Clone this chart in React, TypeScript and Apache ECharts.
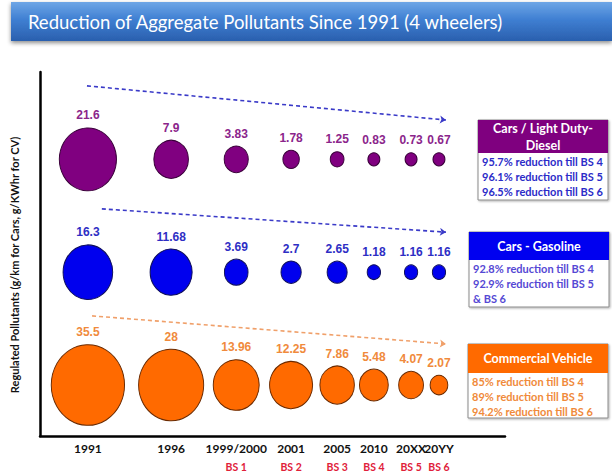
import React, { useEffect, useRef } from "react";
import * as echarts from "echarts";

const categories = ["1991", "1996", "1999/2000", "2001", "2005", "2010", "20XX", "20YY"];
const bsNorms = ["", "", "BS 1", "BS 2", "BS 3", "BS 4", "BS 5", "BS 6"];
// position of each category along the (unevenly spaced) x axis, 0..100
const xSlot = [10.3, 28.2, 42.2, 54, 63.9, 71.8, 79.8, 85.8];
const dieselValues = [21.6, 7.9, 3.83, 1.78, 1.25, 0.83, 0.73, 0.67];
const gasolineValues = [16.3, 11.68, 3.69, 2.7, 2.65, 1.18, 1.16, 1.16];
const cvValues = [35.5, 28, 13.96, 12.25, 7.86, 5.48, 4.07, 2.07];
const rowLevel = [76, 45, 14]; // diesel, gasoline, CV rows on the 0..100 y scale

const FONT = "Lato";

function bubbleSeries(name: string, values: number[], row: number, fill: string, border: string, labelColor: string) {
  return {
    type: "scatter",
    name,
    data: values.map((v, i) => [xSlot[i], row, v]),
    symbol: "circle",
    symbolSize: (val: number[]) => {
      const w = Math.max(12, 12.3 * Math.sqrt(val[2]));
      return [w, w * 1.1];
    },
    itemStyle: { color: fill, borderColor: border, borderWidth: 1, opacity: 1 },
    label: {
      show: true,
      position: "top",
      distance: 6,
      formatter: (p: any) => String(p.value[2]),
      color: labelColor,
      fontFamily: "Liberation Sans",
      fontWeight: "bold",
      fontSize: 12,
    },
    labelLayout: { hideOverlap: false },
    z: 3,
  };
}

function arrowSeries(row: number, startDx: number, startDy: number, endDy: number, color: string) {
  return {
    type: "lines",
    coordinateSystem: "cartesian2d",
    symbol: ["none", "arrow"],
    symbolSize: 6,
    lineStyle: { color, width: 1.6, type: [4, 3], opacity: 1 },
    data: [{ coords: [[xSlot[0] + startDx, row + startDy], [xSlot[xSlot.length - 1] + 1.5, row + endDy]] }],
    z: 2,
  };
}

function legendBox(x: number, y: number, w: number, headH: number, bodyH: number, headColor: string, headLines: string[], bodyLines: string[], bodyColor: string) {
  const children: any[] = [
    { type: "rect", shape: { x: x, y: y, width: w, height: headH + bodyH }, style: { fill: "#fff", stroke: "#8a8a8a", lineWidth: 1, shadowBlur: 2, shadowColor: "rgba(0,0,0,0.3)", shadowOffsetX: 1, shadowOffsetY: 1 } },
    { type: "rect", shape: { x: x, y: y, width: w, height: headH }, style: { fill: headColor } },
    {
      type: "text",
      x: x + w / 2,
      y: y + headH / 2,
      style: { text: headLines.join("\n"), fill: "#fff", font: `bold 12.5px ${FONT}`, align: "center", verticalAlign: "middle", lineHeight: 17 },
    },
  ];
  bodyLines.forEach((t, i) => {
    children.push({
      type: "text",
      x: x + 4,
      y: y + headH + 8 + i * 15,
      style: { text: t, fill: bodyColor, font: `bold 11px ${FONT}`, align: "left", verticalAlign: "middle" },
    });
  });
  return { type: "group", children };
}

function labelFormatter(val: number) {
  let idx = 0;
  let best = Infinity;
  xSlot.forEach((s, i) => {
    const d = Math.abs(s - val);
    if (d < best) { best = d; idx = i; }
  });
  return `{yr|${categories[idx]}}\n{bs|${bsNorms[idx] || " "}}`;
}

function xAxisDef(values: number[], showLine: boolean) {
  return {
    type: "value",
    position: "bottom",
    min: 0,
    max: 100,
    splitLine: { show: false },
    axisTick: { show: false },
    axisLine: { show: showLine, onZero: false, lineStyle: { color: "#000", width: 2.5 } },
    axisLabel: {
      customValues: values,
      margin: 4,
      hideOverlap: false,
      formatter: labelFormatter,
      rich: {
        yr: { fontFamily: FONT, fontWeight: "bold", fontSize: 12, color: "#111", lineHeight: 16 },
        bs: { fontFamily: FONT, fontWeight: "bold", fontSize: 10.5, color: "#e0203a", lineHeight: 21 },
      },
    },
  };
}

export default function App() {
  const ref = useRef<HTMLDivElement>(null);
  useEffect(() => {
    if (!ref.current) return;
    const chart = echarts.init(ref.current, null, { renderer: "svg" });
    const option: any = {
      animation: false,
      backgroundColor: "#fff",
      grid: { left: 40, right: 107, top: 72, bottom: 38 },
      xAxis: [
        xAxisDef(xSlot.filter((_, i) => i % 2 === 0), true),
        xAxisDef(xSlot.filter((_, i) => i % 2 === 1), false),
      ],
      yAxis: {
        type: "value",
        min: 0,
        max: 100,
        splitLine: { show: false },
        axisTick: { show: false },
        axisLabel: { show: false },
        axisLine: { show: true, onZero: false, lineStyle: { color: "#000", width: 2.5 } },
        name: "Regulated Pollutants (g/km for Cars, g/KWhr for CV)",
        nameLocation: "middle",
        nameRotate: 90,
        nameGap: 20,
        nameTextStyle: { fontFamily: FONT, fontWeight: "bold", fontSize: 11, color: "#111", padding: [0, 22, 0, 0] },
      },
      series: [
        arrowSeries(rowLevel[0], -0.2, 20.2, 10.8, "#3a3ac8"),
        arrowSeries(rowLevel[1], 3.0, 17.4, 11, "#3a3ac8"),
        arrowSeries(rowLevel[2], 0.9, 19, 11.3, "#f0a06a"),
        bubbleSeries("Cars / Light Duty-Diesel", dieselValues, rowLevel[0], "#800080", "#3a003a", "#8b258b"),
        bubbleSeries("Cars - Gasoline", gasolineValues, rowLevel[1], "#0000ee", "#10105a", "#2e2ec4"),
        bubbleSeries("Commercial Vehicle", cvValues, rowLevel[2], "#ff6a00", "#6a2a00", "#f08a3c"),
      ],
      graphic: [
        {
          type: "rect",
          shape: { x: 11, y: 2, width: 601, height: 39 },
          style: {
            fill: new echarts.graphic.LinearGradient(0, 0, 0, 1, [
              { offset: 0, color: "#6ea6e6" },
              { offset: 0.45, color: "#3f7fd2" },
              { offset: 1, color: "#2a5fae" },
            ]),
            shadowBlur: 4,
            shadowColor: "rgba(0,0,0,0.45)",
            shadowOffsetY: 2,
          },
        },
        {
          type: "text",
          x: 265,
          y: 22,
          style: { text: "Reduction of Aggregate Pollutants Since 1991 (4 wheelers)", fill: "#fff", font: `18.5px ${FONT}`, align: "center", verticalAlign: "middle" },
        },
        legendBox(478, 120, 130, 33, 47, "#7f007f", ["Cars / Light Duty-", "Diesel"], ["95.7% reduction till BS 4", "96.1% reduction till BS 5", "96.5% reduction till BS 6"], "#2b2bc8"),
        legendBox(469, 232, 140, 28, 47, "#0000f0", ["Cars - Gasoline"], ["92.8% reduction till BS 4", "92.9% reduction till BS 5", "& BS 6"], "#5548d4"),
        legendBox(468, 344, 140, 29, 45, "#ff6a00", ["Commercial Vehicle"], ["85% reduction till BS 4", "89% reduction till BS 5", "94.2% reduction till BS 6"], "#f08a3a"),
      ],
    };
    chart.setOption(option);
    return () => chart.dispose();
  }, []);
  return <div ref={ref} style={{ position: "fixed", left: 0, top: 0, width: 612, height: 474, background: "#fff" }} />;
}
